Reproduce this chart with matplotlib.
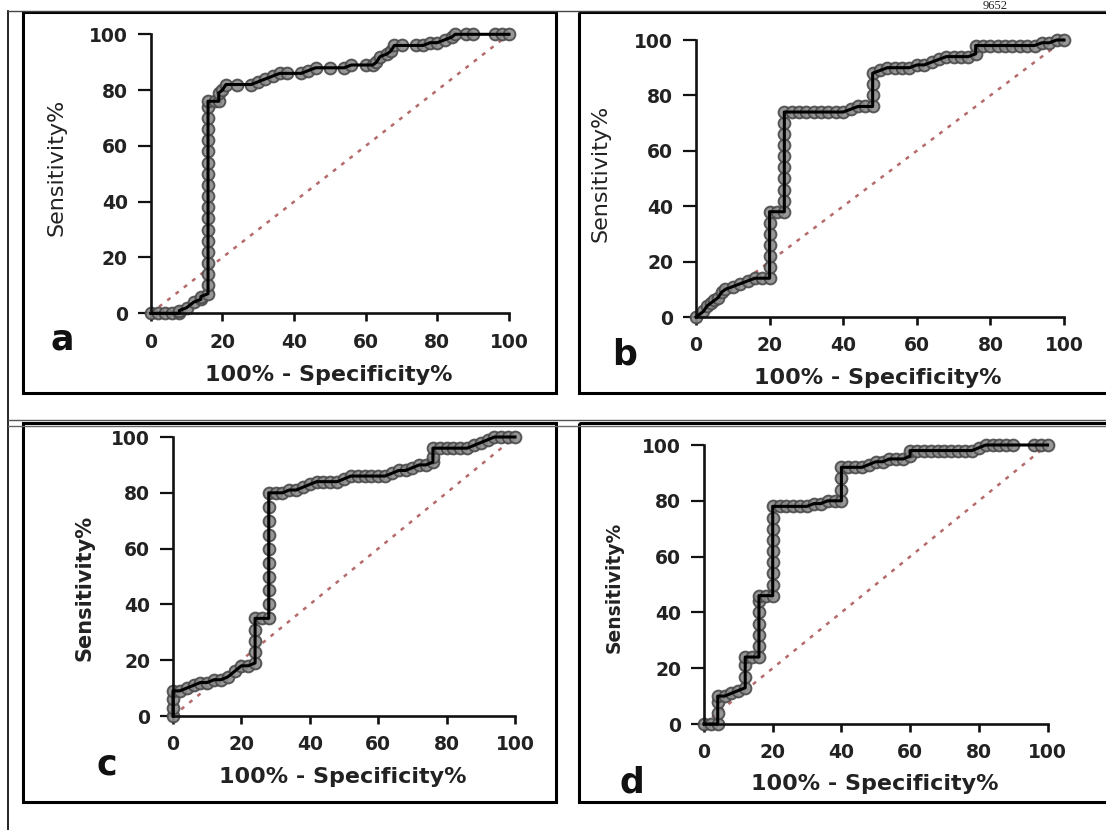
import matplotlib
matplotlib.use("Agg")
import matplotlib.pyplot as plt
from matplotlib.patches import Rectangle

# ---------------- data ----------------
ticks = [0, 20, 40, 60, 80, 100]
tick_labels = ["0", "20", "40", "60", "80", "100"]
panel_letters = ["a", "b", "c", "d"]
x_title = "100% - Specificity%"
y_title = "Sensitivity%"

a_fpr = [0, 2, 4, 6, 8, 8, 10, 12, 14, 14, 16, 16, 16, 16, 16, 16, 16, 16, 16, 16, 16, 16, 16, 16, 16, 16,
         16, 16, 16, 18, 19, 19, 20, 21, 24, 28, 30, 32, 34, 36, 38, 42, 44, 46, 50, 54, 56, 60, 62, 63,
         64, 66, 67, 68, 70, 74, 76, 78, 80, 82, 84, 85, 88, 90, 96, 98, 100]
a_sens = [0, 0, 0, 0, 0, 1, 2, 4, 5, 6, 7, 10, 14, 18, 22, 26, 30, 34, 38, 42, 46, 50, 54, 58, 62, 66,
          70, 74, 76, 76, 76, 79, 80, 82, 82, 82, 83, 84, 85, 86, 86, 86, 87, 88, 88, 88, 89, 89, 89, 90,
          92, 93, 94, 96, 96, 96, 96, 97, 97, 98, 99, 100, 100, 100, 100, 100, 100]

b_fpr = [0, 2, 3, 4, 5, 6, 7, 8, 10, 12, 14, 16, 18, 20, 20, 20, 20, 20, 20, 20, 22, 24, 24, 24, 24, 24,
         24, 24, 24, 24, 24, 26, 28, 30, 32, 34, 36, 38, 40, 42, 44, 46, 48, 48, 48, 48, 50, 52, 54, 56,
         58, 60, 62, 64, 66, 68, 70, 72, 74, 76, 76, 78, 80, 82, 84, 86, 88, 90, 92, 94, 96, 98, 100]
b_sens = [0, 2, 4, 5, 6, 7, 9, 10, 11, 12, 13, 14, 14, 14, 18, 22, 26, 30, 34, 38, 38, 38, 42, 46, 50, 54,
          58, 62, 66, 70, 74, 74, 74, 74, 74, 74, 74, 74, 74, 75, 76, 76, 76, 80, 84, 88, 89, 90, 90, 90,
          90, 91, 91, 92, 93, 94, 94, 94, 94, 95, 98, 98, 98, 98, 98, 98, 98, 98, 98, 99, 99, 100, 100]

c_fpr = [0, 0, 0, 0, 2, 4, 6, 8, 10, 12, 14, 16, 18, 20, 22, 24, 24, 24, 24, 24, 26, 28, 28, 28, 28, 28,
         28, 28, 28, 28, 28, 30, 32, 34, 36, 38, 40, 42, 44, 46, 48, 50, 52, 54, 56, 58, 60, 62, 64, 66,
         68, 70, 72, 74, 76, 76, 76, 78, 80, 82, 84, 86, 88, 90, 92, 94, 96, 98, 100]
c_sens = [0, 3, 6, 9, 9, 10, 11, 12, 12, 13, 13, 14, 16, 18, 18, 19, 23, 27, 31, 35, 35, 35, 40, 45, 50, 55,
          60, 65, 70, 75, 80, 80, 80, 81, 81, 82, 83, 84, 84, 84, 84, 85, 86, 86, 86, 86, 86, 86, 87, 88,
          88, 89, 90, 90, 91, 93, 96, 96, 96, 96, 96, 96, 97, 98, 99, 100, 100, 100, 100]

d_fpr = [0, 2, 4, 4, 4, 4, 6, 8, 10, 12, 12, 12, 12, 14, 16, 16, 16, 16, 16, 16, 16, 18, 20, 20, 20, 20,
         20, 20, 20, 20, 20, 22, 24, 26, 28, 30, 32, 34, 36, 38, 40, 40, 40, 40, 42, 44, 46, 48, 50, 52,
         54, 56, 58, 60, 60, 62, 64, 66, 68, 70, 72, 74, 76, 78, 80, 82, 84, 86, 88, 90, 96, 98, 100]
d_sens = [0, 0, 0, 4, 8, 10, 10, 11, 12, 13, 17, 21, 24, 24, 24, 28, 32, 36, 40, 44, 46, 46, 46, 50, 54, 58,
          62, 66, 70, 74, 78, 78, 78, 78, 78, 78, 79, 79, 80, 80, 80, 84, 88, 92, 92, 92, 92, 93, 94, 94,
          95, 95, 95, 96, 98, 98, 98, 98, 98, 98, 98, 98, 98, 98, 99, 100, 100, 100, 100, 100, 100, 100, 100]

curves = [(a_fpr, a_sens), (b_fpr, b_sens), (c_fpr, c_sens), (d_fpr, d_sens)]

# ---------------- layout (pixels in the 1106x830 image) ----------------
W, H = 1106, 830
def fx(x):
    return x / W
def fy(y):
    return 1 - y / H

# axes rectangles: (left, right, top(y=100), bottom(y=0))
axes_px = [(150.7, 509, 34.3, 313.3),
           (696, 1064, 40, 317),
           (173, 515, 437, 716),
           (704, 1047.5, 445, 724)]
xlabel_pos = [(328.6, 375), (878, 378), (343, 777), (874.5, 784)]
ylabel_pos = [(57, 167), (600, 173), (84, 588), (614, 587)]
ylabel_style = [("normal", 16), ("normal", 16), ("bold", 15), ("bold", 13.5)]
letter_pos = [(62.5, 339), (624.5, 354), (107, 764), (631.5, 782)]

fig = plt.figure(figsize=(W / 100, H / 100), dpi=100)
fig.patch.set_facecolor("white")

# background "table" drawing
bg = fig.add_axes([0, 0, 1, 1], zorder=-5)
bg.set_xlim(0, W)
bg.set_ylim(H, 0)
bg.axis("off")
box_lw = 2.2
for (x0, y0, x1, y1) in [(23, 12, 555.6, 393), (579, 12, 1110, 393),
                         (23, 422.5, 555.6, 802), (579, 422.5, 1110, 802)]:
    bg.add_patch(Rectangle((x0, y0), x1 - x0, y1 - y0, fill=False,
                           ec="black", lw=box_lw))
bg.plot([8, 8], [11, 830], color="black", lw=1.2)
bg.plot([8, 1106], [11, 11], color="#444444", lw=1.0)
bg.plot([8, 1106], [420.3, 420.3], color="#555555", lw=1.0)
bg.plot([8, 1106], [425.6, 425.6], color="#666666", lw=1.0)
fig.text(fx(995), fy(9), "9652", family="Liberation Serif", fontsize=9,
         ha="center", va="baseline", color="#222222")

for i, ((fpr, sens), (l, r, t, b)) in enumerate(zip(curves, axes_px)):
    ax = fig.add_axes([fx(l), fy(b), (r - l) / W, (b - t) / H])
    ax.set_xlim(0, 100)
    ax.set_ylim(0, 100)
    ax.set_facecolor("none")
    for s in ["top", "right"]:
        ax.spines[s].set_visible(False)
    for s in ["left", "bottom"]:
        ax.spines[s].set_linewidth(1.9)
        ax.spines[s].set_color("#111111")
    ax.set_xticks(ticks)
    ax.set_yticks(ticks)
    ax.set_xticklabels(tick_labels, fontsize=13.5, fontweight="bold",
                       family="DejaVu Sans", color="#222222")
    ax.set_yticklabels(tick_labels, fontsize=13.5, fontweight="bold",
                       family="DejaVu Sans", color="#222222")
    ax.tick_params(axis="x", direction="out", length=6, width=1.9, pad=8,
                   color="#111111")
    ax.tick_params(axis="y", direction="out", length=9.5, width=1.6, pad=7,
                   color="#111111")
    # chance line
    ax.plot([0, 100], [0, 100], color="#b56b6b", lw=1.8,
            ls=(0, (1.6, 2.6)), zorder=1, clip_on=False)
    # ROC points and line
    ax.plot(fpr, sens, ls="none", marker="o", ms=8.5, mfc="#8c8c8c",
            mec="#4a4a4a", mew=1.4, alpha=0.9, zorder=2, clip_on=False)
    ax.plot(fpr, sens, color="black", lw=2.2, zorder=3, clip_on=False)

    fig.text(fx(xlabel_pos[i][0]), fy(xlabel_pos[i][1]), x_title,
             fontsize=16, fontweight="bold", family="DejaVu Sans",
             ha="center", va="center", color="#222222")
    w, fs = ylabel_style[i]
    fig.text(fx(ylabel_pos[i][0]), fy(ylabel_pos[i][1]), y_title,
             fontsize=fs, fontweight=w, family="DejaVu Sans", rotation=90,
             ha="center", va="center", color="#222222")
    fig.text(fx(letter_pos[i][0]), fy(letter_pos[i][1]), panel_letters[i],
             fontsize=25, fontweight="bold", family="DejaVu Sans",
             ha="center", va="center", color="#111111")

fig.savefig("out.png", dpi=100, facecolor="white")
